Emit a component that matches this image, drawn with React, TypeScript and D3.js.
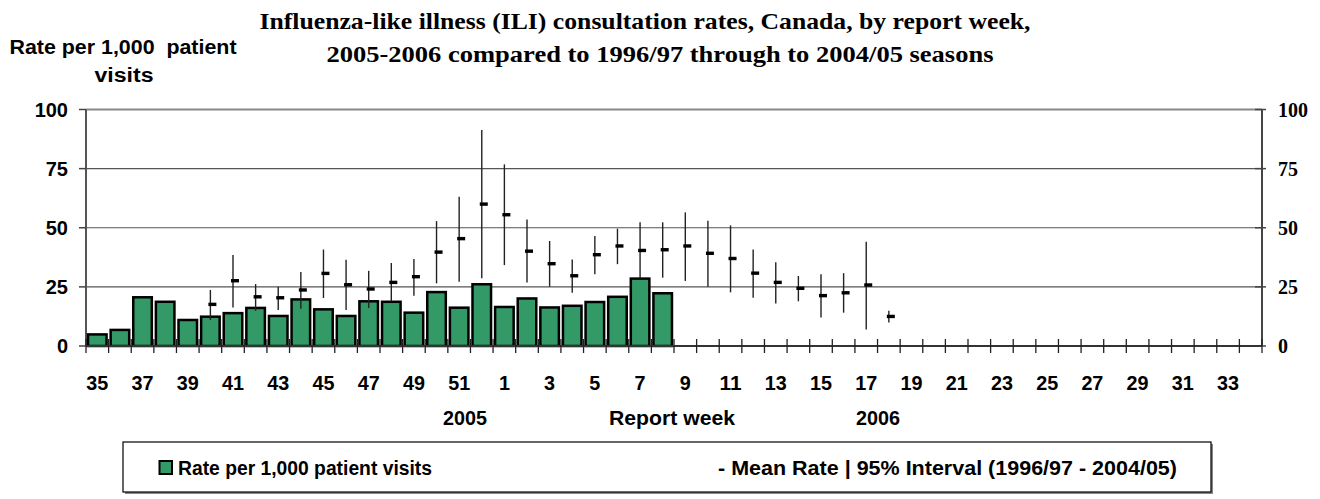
import React from "react";
import * as d3 from "d3";

const weeks: number[] = [
  35, 36, 37, 38, 39, 40, 41, 42, 43, 44, 45, 46, 47, 48, 49, 50, 51, 52,
  1, 2, 3, 4, 5, 6, 7, 8, 9, 10, 11, 12, 13, 14, 15, 16, 17, 18, 19, 20,
  21, 22, 23, 24, 25, 26, 27, 28, 29, 30, 31, 32, 33, 34,
];

// Rate per 1,000 patient visits, 2005-2006 (weeks 35..52, 1..8)
const rates: (number | null)[] = [
  4.9, 6.8, 20.6, 18.7, 11.0, 12.4, 13.9, 16.1, 12.7, 19.7, 15.5, 12.7, 18.9,
  18.7, 14.1, 22.8, 16.2, 26.1, 16.5, 20.1, 16.3, 17.0, 18.6, 20.8, 28.5, 22.3,
];

// Mean rate 1996/97 - 2004/05 (weeks 35..52, 1..18)
const meanRate: (number | null)[] = [
  null, null, null, null, null, 17.6, 27.6, 20.8, 20.4, 23.7, 30.7, 25.9, 24.1,
  26.9, 29.3, 39.7, 45.4, 60.0, 55.5, 40.1, 34.8, 29.7, 38.6, 42.3, 40.4, 40.7,
  42.3, 39.2, 37.0, 30.8, 26.9, 24.4, 21.3, 22.5, 25.8, 12.5,
];

const upper95: (number | null)[] = [
  null, null, null, null, null, 23.7, 38.5, 26.2, 25.1, 31.3, 40.8, 36.5, 31.8,
  35.1, 36.8, 52.8, 63.1, 91.3, 76.8, 53.5, 44.4, 36.6, 46.5, 49.6, 52.3, 52.3,
  56.5, 53.0, 51.0, 40.8, 35.4, 29.6, 30.3, 30.8, 44.1, 14.9,
];

const lower95: (number | null)[] = [
  null, null, null, null, null, 11.0, 16.3, 14.9, 15.2, 15.8, 20.3, 15.2, 16.1,
  18.9, 21.3, 26.5, 27.2, 28.6, 34.2, 26.8, 25.1, 22.5, 30.3, 34.6, 28.6, 28.9,
  27.5, 25.1, 22.7, 20.4, 18.0, 18.9, 12.0, 14.1, 7.0, 9.9,
];

const yTicks: number[] = [0, 25, 50, 75, 100];

const SANS = "'Liberation Sans', Arial, sans-serif";
const SERIF = "'Liberation Serif', 'Times New Roman', serif";
const GREEN = "#339966";

export default function App() {
  const W = 1320;
  const H = 499;
  const left = 86;
  const right = 1262;
  const top = 109.5;
  const bottom = 346;

  const idx = weeks.map((_, i) => String(i));
  const x = d3
    .scaleBand<string>()
    .domain(idx)
    .range([left, right])
    .paddingInner(0.18)
    .paddingOuter(0.09);
  const step = x.step();
  const center = (i: number) => (x(String(i)) as number) + x.bandwidth() / 2;
  const y = d3.scaleLinear().domain([0, 100]).range([bottom, top]);

  return (
    <svg
      width={W}
      height={H}
      style={{ position: "absolute", left: 0, top: 0, background: "#fff" }}
    >
      {/* Title */}
      <text
        x={645}
        y={29}
        textAnchor="middle"
        fontFamily={SERIF}
        fontWeight="bold"
        fontSize={22.5}
        textLength={771}
        lengthAdjust="spacingAndGlyphs"
      >
        Influenza-like illness (ILI) consultation rates, Canada, by report week,
      </text>
      <text
        x={660}
        y={62}
        textAnchor="middle"
        fontFamily={SERIF}
        fontWeight="bold"
        fontSize={22.5}
        textLength={667}
        lengthAdjust="spacingAndGlyphs"
      >
        2005-2006 compared to 1996/97 through to 2004/05 seasons
      </text>

      {/* Y-axis title */}
      <text
        x={123}
        y={54}
        textAnchor="middle"
        fontFamily={SANS}
        fontWeight="bold"
        fontSize={19.5}
        textLength={227}
        lengthAdjust="spacingAndGlyphs"
        style={{ whiteSpace: "pre" }}
      >
        {"Rate per 1,000  patient"}
      </text>
      <text
        x={124}
        y={82}
        textAnchor="middle"
        fontFamily={SANS}
        fontWeight="bold"
        fontSize={19.5}
        textLength={59}
        lengthAdjust="spacingAndGlyphs"
      >
        visits
      </text>

      {/* Gridlines */}
      {yTicks
        .filter((t) => t > 0 && t < 100)
        .map((t) => (
          <line
            key={"g" + t}
            x1={left}
            x2={right}
            y1={y(t)}
            y2={y(t)}
            stroke="#555"
            strokeWidth={1.2}
          />
        ))}
      <line x1={left} x2={right} y1={y(100)} y2={y(100)} stroke="#888" strokeWidth={2.2} />

      {/* Left axis */}
      <line x1={left} x2={left} y1={y(100)} y2={bottom} stroke="#555" strokeWidth={2} />
      {yTicks.map((t) => (
        <g key={"ly" + t}>
          <line x1={left - 7} x2={left} y1={y(t)} y2={y(t)} stroke="#444" strokeWidth={1.5} />
          <text
            x={68}
            y={y(t)}
            dy="0.36em"
            textAnchor="end"
            fontFamily={SANS}
            fontWeight="bold"
            fontSize={20}
          >
            {t}
          </text>
        </g>
      ))}

      {/* Right axis */}
      <line x1={right} x2={right} y1={y(100)} y2={bottom} stroke="#444" strokeWidth={2} />
      {yTicks.map((t) => (
        <g key={"ry" + t}>
          <line x1={right - 7} x2={right + 4} y1={y(t)} y2={y(t)} stroke="#444" strokeWidth={1.5} />
          <text
            x={1278}
            y={y(t)}
            dy="0.35em"
            textAnchor="start"
            fontFamily={SERIF}
            fontWeight="bold"
            fontSize={20}
          >
            {t}
          </text>
        </g>
      ))}

      {/* Bars */}
      {rates.map((v, i) =>
        v == null ? null : (
          <rect
            key={"b" + i}
            x={x(String(i)) as number}
            y={y(v)}
            width={x.bandwidth()}
            height={bottom - y(v)}
            fill={GREEN}
            stroke="#000"
            strokeWidth={2.5}
          />
        )
      )}

      {/* Bottom axis */}
      <line x1={left} x2={right} y1={bottom} y2={bottom} stroke="#333" strokeWidth={2.2} />
      {d3.range(weeks.length + 1).map((k) => {
        const xx = left + k * step;
        return (
          <line
            key={"t" + k}
            x1={xx}
            x2={xx}
            y1={bottom - 7}
            y2={bottom + 7}
            stroke="#222"
            strokeWidth={1.3}
          />
        );
      })}

      {/* 95% intervals and mean */}
      {meanRate.map((m, i) => {
        const lo = lower95[i];
        const hi = upper95[i];
        if (m == null || lo == null || hi == null) return null;
        const cx = center(i);
        return (
          <g key={"iv" + i}>
            <line x1={cx} x2={cx} y1={y(hi)} y2={y(lo)} stroke="#222" strokeWidth={1.4} />
            <rect x={cx - 2} y={y(m) - 1.7} width={8} height={3.4} fill="#000" />
          </g>
        );
      })}

      {/* X tick labels */}
      {weeks.map((w, i) =>
        i % 2 === 0 ? (
          <text
            key={"xl" + i}
            x={center(i)}
            y={390}
            textAnchor="middle"
            fontFamily={SANS}
            fontWeight="bold"
            fontSize={20.5}
            textLength={w >= 10 ? 22 : 11}
            lengthAdjust="spacingAndGlyphs"
          >
            {w}
          </text>
        ) : null
      )}

      {/* X-axis captions */}
      <text x={465} y={425} textAnchor="middle" fontFamily={SANS} fontWeight="bold" fontSize={20}
        textLength={44} lengthAdjust="spacingAndGlyphs">
        2005
      </text>
      <text x={672} y={425} textAnchor="middle" fontFamily={SANS} fontWeight="bold" fontSize={20}
        textLength={126} lengthAdjust="spacingAndGlyphs">
        Report week
      </text>
      <text x={878} y={425} textAnchor="middle" fontFamily={SANS} fontWeight="bold" fontSize={20}
        textLength={44} lengthAdjust="spacingAndGlyphs">
        2006
      </text>

      {/* Legend */}
      <line x1={125} x2={1213} y1={493} y2={493} stroke="#888" strokeWidth={2} />
      <line x1={1212} x2={1212} y1={444} y2={493} stroke="#888" strokeWidth={2} />
      <rect x={123} y={442} width={1088} height={50} fill="#fff" stroke="#000" strokeWidth={1.2} />
      <rect x={159.5} y={461} width={12.5} height={13} fill={GREEN} stroke="#000" strokeWidth={2} />
      <text
        x={178}
        y={475}
        fontFamily={SANS}
        fontWeight="bold"
        fontSize={19.5}
        textLength={254}
        lengthAdjust="spacingAndGlyphs"
      >
        Rate per 1,000 patient visits
      </text>
      <text
        x={718}
        y={475}
        fontFamily={SANS}
        fontWeight="bold"
        fontSize={19.5}
        textLength={459}
        lengthAdjust="spacingAndGlyphs"
      >
        - Mean Rate | 95% Interval (1996/97 - 2004/05)
      </text>
    </svg>
  );
}
